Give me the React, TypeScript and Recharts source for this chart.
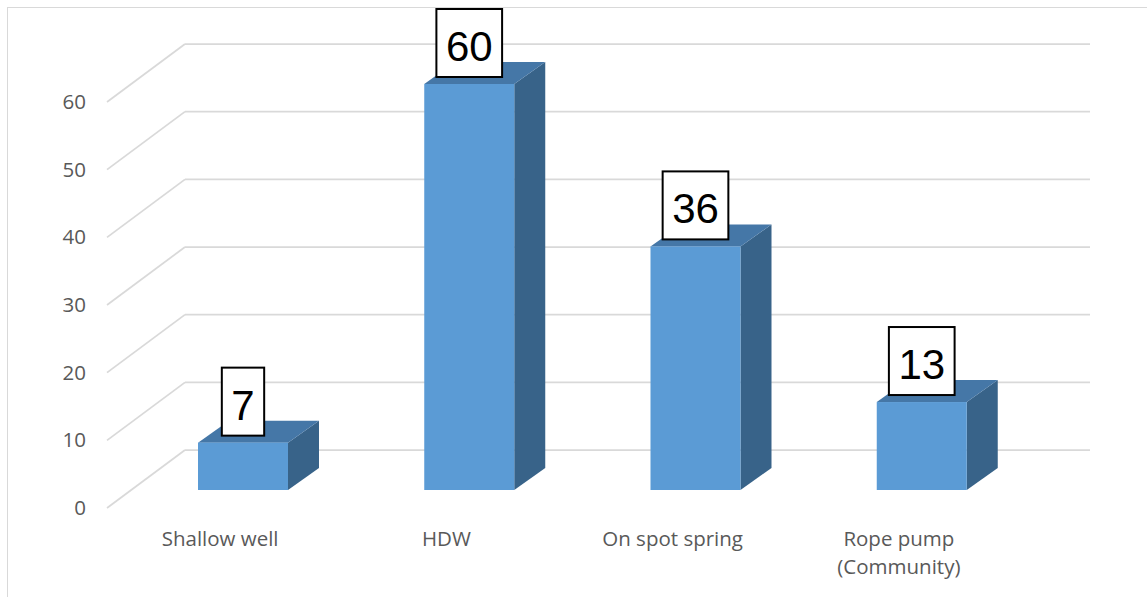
import { BarChart, Bar, XAxis, YAxis, CartesianGrid, LabelList } from 'recharts';

const categories = ['Shallow well', 'HDW', 'On spot spring', 'Rope pump\n(Community)'];
const counts = [7, 60, 36, 13];
const yTicks = [0, 10, 20, 30, 40, 50, 60];

const data = categories.map((name, i) => ({ name, value: counts[i] }));

// pseudo-3D offsets, measured from the bar front plane
const BACK_DX = 55;
const BACK_DY = -40;
const FRONT_DX = -23;
const FRONT_DY = 18;
const BAR_DEPTH_DX = 31;
const BAR_DEPTH_DY = -22;

const FACE = '#5B9BD5';
const TOP = '#4577A7';
const SIDE = '#386389';
const GRID = '#D9D9D9';
const AXIS_TEXT = '#595959';
const AXIS_FONT = '"Open Sans", sans-serif';
const AXIS_SIZE = 20.5;

// back-wall line plus the diagonal running out to the front-left edge
const GridLine = (props: any) => {
  const { x1, x2, y1, index } = props;
  const by = y1 + BACK_DY;
  return (
    <g key={`grid-${index}`}>
      <line x1={x1 + BACK_DX} y1={by} x2={x2 + BACK_DX} y2={by} stroke={GRID} strokeWidth={1.75} />
      <line
        x1={x1 + BACK_DX}
        y1={by}
        x2={x1 + FRONT_DX}
        y2={y1 + FRONT_DY}
        stroke={GRID}
        strokeWidth={1.75}
      />
    </g>
  );
};

const Box3D = (props: any) => {
  const { x, y, width, height } = props;
  if (height <= 0) return null;
  const dx = BAR_DEPTH_DX;
  const dy = BAR_DEPTH_DY;
  const top = `${x},${y} ${x + dx},${y + dy} ${x + width + dx},${y + dy} ${x + width},${y}`;
  const side = `${x + width},${y} ${x + width + dx},${y + dy} ${x + width + dx},${y + height + dy} ${x + width},${y + height}`;
  return (
    <g>
      <polygon points={side} fill={SIDE} />
      <polygon points={top} fill={TOP} />
      <rect x={x} y={y} width={width} height={height} fill={FACE} />
    </g>
  );
};

const ValueBox = (props: any) => {
  const { x, y, width, value } = props;
  const text = String(value);
  const fontSize = 42;
  const w = text.length * fontSize * 0.556 + 19;
  const h = 68;
  const cx = x + width / 2;
  const bottom = y - 7;
  return (
    <g>
      <rect x={cx - w / 2} y={bottom - h} width={w} height={h} fill="#fff" stroke="#000" strokeWidth={2} />
      <text
        x={cx}
        y={bottom - 16}
        textAnchor="middle"
        fontSize={fontSize}
        fontFamily='"Liberation Sans", Arial, sans-serif'
        fill="#000"
      >
        {text}
      </text>
    </g>
  );
};

const CategoryTick = (props: any) => {
  const { x, y, payload } = props;
  const lines = String(payload.value).split('\n');
  const tx = x + FRONT_DX;
  return (
    <text x={tx} y={y + 48} textAnchor="middle" fontSize={AXIS_SIZE} fontFamily={AXIS_FONT} fill={AXIS_TEXT}>
      {lines.map((line, i) => (
        <tspan key={i} x={tx} dy={i === 0 ? 0 : 28}>
          {line}
        </tspan>
      ))}
    </text>
  );
};

const ValueTick = (props: any) => {
  const { y, payload } = props;
  return (
    <text
      x={130 + FRONT_DX - 21}
      y={y + FRONT_DY + 7}
      textAnchor="end"
      fontSize={AXIS_SIZE}
      fontFamily={AXIS_FONT}
      fill={AXIS_TEXT}
    >
      {payload.value}
    </text>
  );
};

export default function App() {
  return (
    <div style={{ position: 'absolute', left: 0, top: 0, width: 1147, height: 597, background: '#fff' }}>
      <div
        style={{
          position: 'absolute',
          left: 7,
          top: 7,
          width: 1160,
          height: 620,
          border: '1.5px solid #D9D9D9',
        }}
      />
      <div style={{ position: 'absolute', left: 0, top: 0 }}>
        <BarChart
          width={1147}
          height={597}
          data={data}
          margin={{ top: 84, right: 112, bottom: 0, left: 0 }}
        >
          <CartesianGrid horizontal={GridLine} vertical={false} />
          <XAxis
            dataKey="name"
            axisLine={false}
            tickLine={false}
            height={107}
            interval={0}
            tick={CategoryTick}
          />
          <YAxis
            width={130}
            domain={[0, 60]}
            ticks={yTicks}
            axisLine={false}
            tickLine={false}
            tick={ValueTick}
          />
          <Bar dataKey="value" barSize={90} shape={Box3D} isAnimationActive={false}>
            <LabelList dataKey="value" content={ValueBox} />
          </Bar>
        </BarChart>
      </div>
    </div>
  );
}
